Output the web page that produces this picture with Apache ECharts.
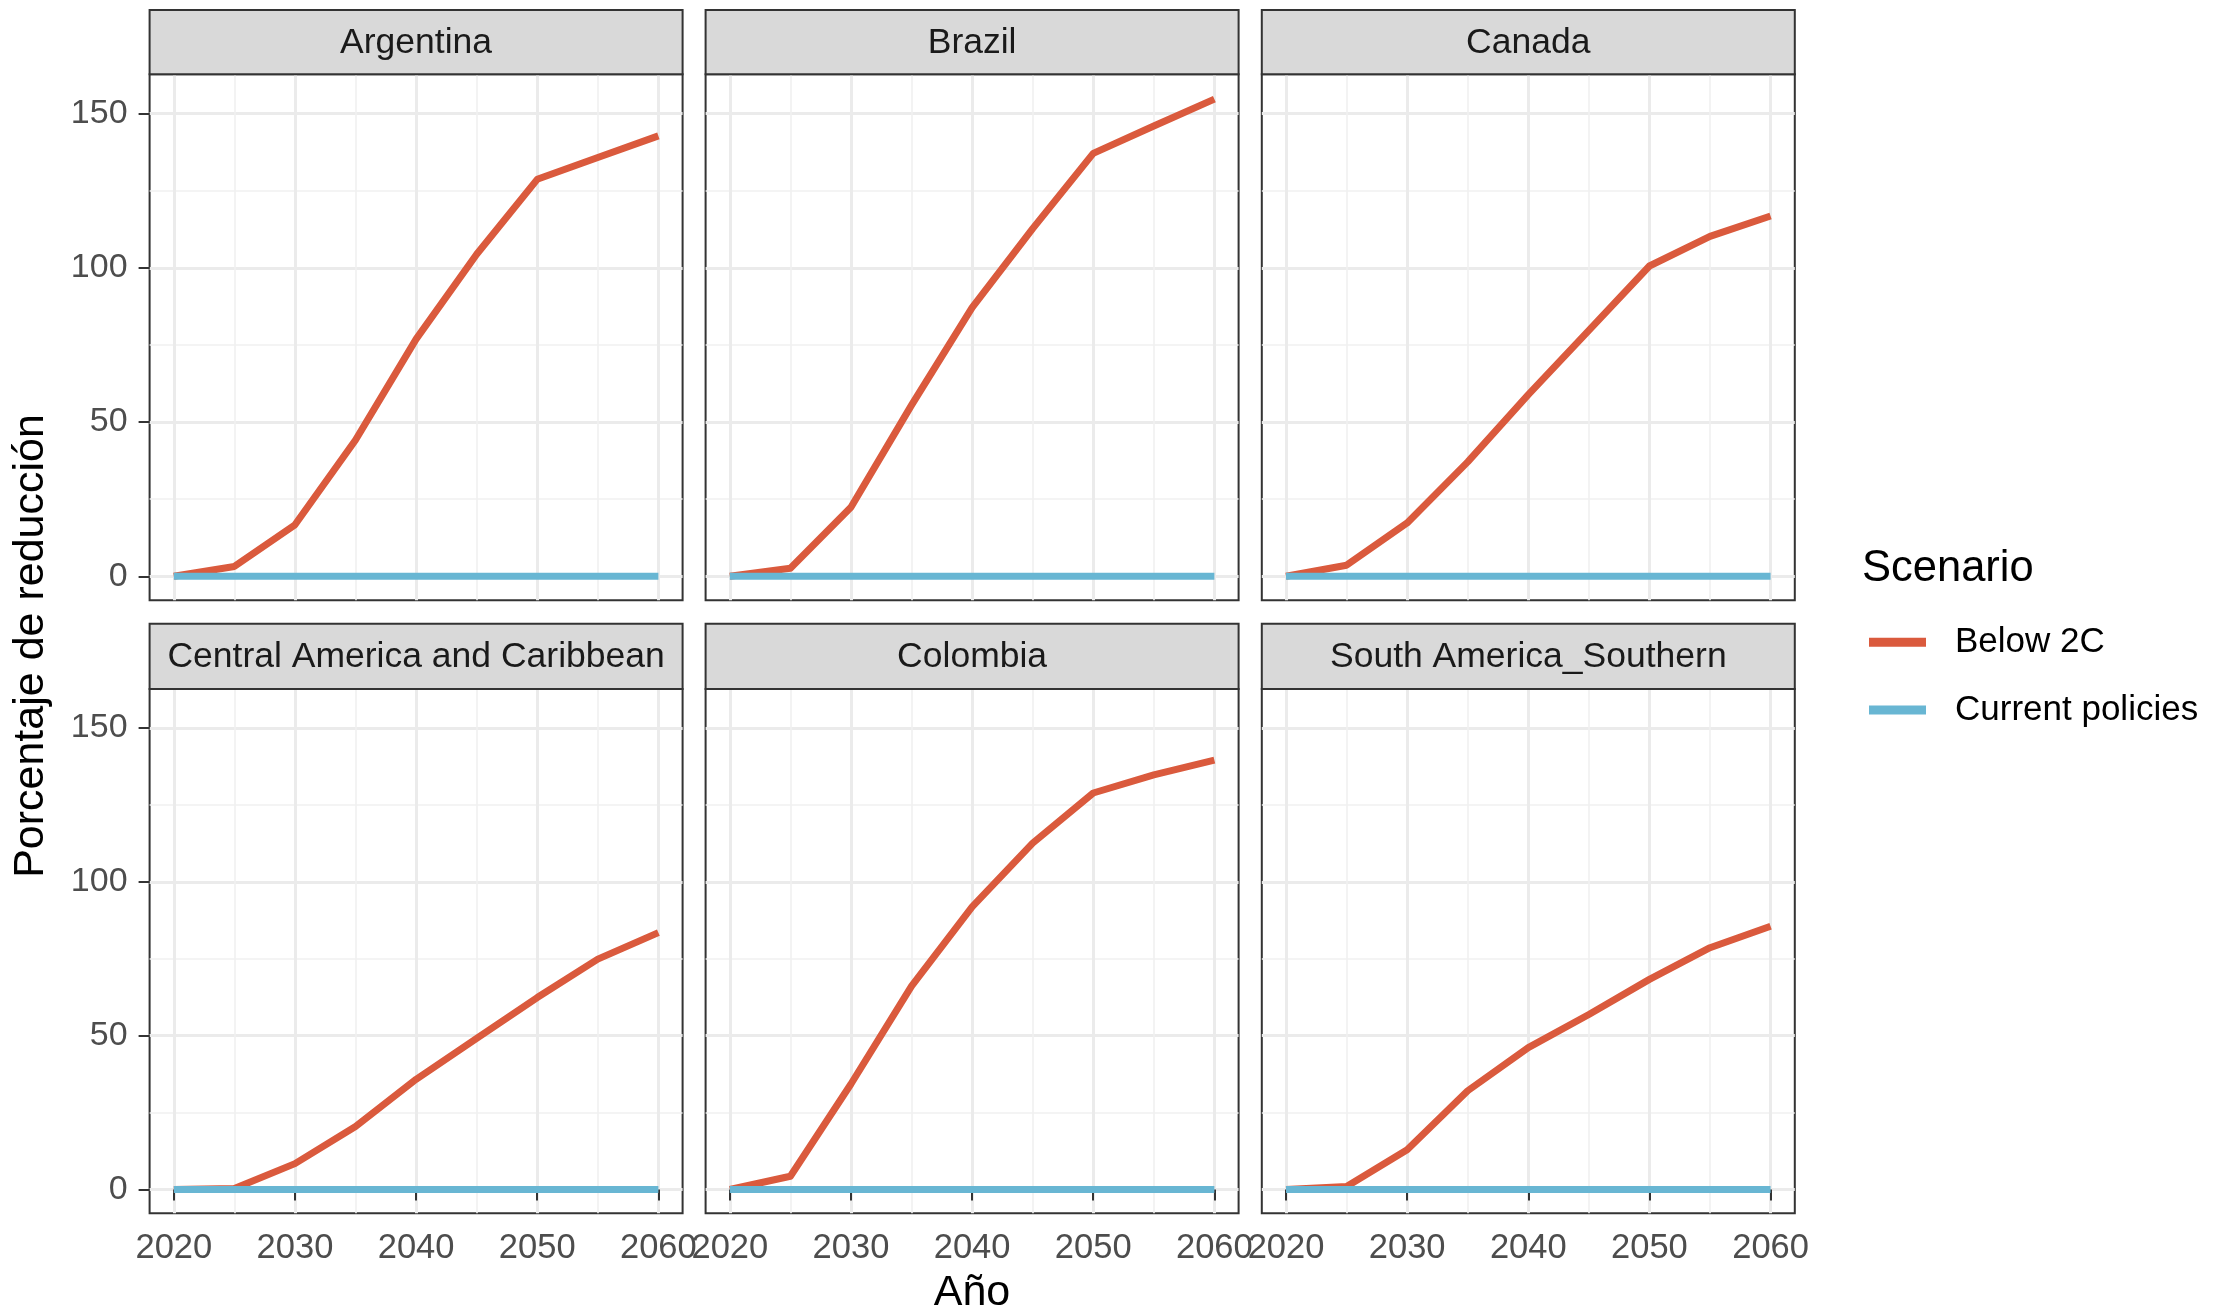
<!DOCTYPE html>
<html><head><meta charset="utf-8">
<script src="https://cdn.jsdelivr.net/npm/echarts@6/dist/echarts.min.js"></script>
<style>html,body{margin:0;padding:0;background:#fff}#c{width:2220px;height:1315px}</style>
</head><body><div id="c"></div>
<script>
// ---------- DATA ----------
const years = [2020, 2025, 2030, 2035, 2040, 2045, 2050, 2055, 2060];
const panelNames = ['Argentina', 'Brazil', 'Canada', 'Central America and Caribbean', 'Colombia', 'South America_Southern'];
const scenarioNames = ['Below 2C', 'Current policies'];

const argentinaBelow2C     = [0, 3.2, 16.7, 44.2, 76.9, 104.4, 128.7, 135.8, 142.8];
const brazilBelow2C        = [0, 2.6, 22.4, 55.5, 87.1, 112.7, 137.1, 146.0, 154.7];
const canadaBelow2C        = [0, 3.6, 17.3, 37.1, 58.9, 79.7, 100.6, 110.2, 116.8];
const centralAmericaBelow2C= [0, 0.3, 8.4, 20.5, 35.8, 49.1, 62.4, 74.9, 83.5];
const colombiaBelow2C      = [0, 4.3, 34.3, 66.1, 91.9, 112.6, 128.9, 134.8, 139.6];
const southAmericaBelow2C  = [0, 1.0, 12.9, 32.1, 46.1, 56.9, 68.3, 78.6, 85.6];

const argentinaCurrent      = [0, 0, 0, 0, 0, 0, 0, 0, 0];
const brazilCurrent         = [0, 0, 0, 0, 0, 0, 0, 0, 0];
const canadaCurrent         = [0, 0, 0, 0, 0, 0, 0, 0, 0];
const centralAmericaCurrent = [0, 0, 0, 0, 0, 0, 0, 0, 0];
const colombiaCurrent       = [0, 0, 0, 0, 0, 0, 0, 0, 0];
const southAmericaCurrent   = [0, 0, 0, 0, 0, 0, 0, 0, 0];

const xMajorTicks = [2020, 2030, 2040, 2050, 2060];
const xMinorTicks = [2025, 2035, 2045, 2055];
const yMajorTicks = [0, 50, 100, 150];
const yMinorTicks = [25, 75, 125];
const xRange = [2018, 2062];
const yRange = [-7.75, 162.75];

const below2CByPanel = [argentinaBelow2C, brazilBelow2C, canadaBelow2C, centralAmericaBelow2C, colombiaBelow2C, southAmericaBelow2C];
const currentByPanel = [argentinaCurrent, brazilCurrent, canadaCurrent, centralAmericaCurrent, colombiaCurrent, southAmericaCurrent];

// ---------- STYLE / LAYOUT ----------
const FONT = '"Liberation Sans", Arial, Helvetica, sans-serif';
const RED = '#DA5A3D';
const BLUE = '#68B6D3';
const L = {
  colLeft: [149.6, 705.6, 1261.8], colWidth: 533,
  stripTop: [9.9, 623.7], plotTop: [74.3, 688.9], plotBottom: [600.2, 1213.3]
};

const grids = [], xAxes = [], yAxes = [], series = [], graphics = [];
const toPairs = arr => years.map((y, k) => [y, arr[k]]);
const plain = v => String(v);

for (let i = 0; i < 6; i++) {
  const r = Math.floor(i / 3), c = i % 3;
  grids.push({
    left: L.colLeft[c], top: L.plotTop[r], width: L.colWidth,
    height: L.plotBottom[r] - L.plotTop[r],
    show: true, borderColor: '#333333', borderWidth: 2, backgroundColor: '#ffffff'
  });
}
// major axes (indices 0..5)
for (let i = 0; i < 6; i++) {
  const r = Math.floor(i / 3), c = i % 3;
  xAxes.push({
    type: 'value', gridIndex: i, min: xRange[0], max: xRange[1], position: 'bottom',
    axisLine: { show: false },
    axisTick: { show: r === 1, customValues: xMajorTicks, length: 11, lineStyle: { color: '#333333', width: 2 } },
    axisLabel: { show: r === 1, customValues: xMajorTicks, formatter: plain, fontSize: 34.5, color: '#4D4D4D', margin: 18, fontFamily: FONT },
    splitLine: { show: true, lineStyle: { color: '#EBEBEB', width: 3 } }
  });
  yAxes.push({
    type: 'value', gridIndex: i, min: yRange[0], max: yRange[1], position: 'left',
    axisLine: { show: false },
    axisTick: { show: c === 0, customValues: yMajorTicks, length: 11, lineStyle: { color: '#333333', width: 2 } },
    axisLabel: { show: c === 0, customValues: yMajorTicks, formatter: plain, fontSize: 34, color: '#4D4D4D', margin: 22, fontFamily: FONT },
    splitLine: { show: true, lineStyle: { color: '#EBEBEB', width: 3 } }
  });
}
// minor grid axes (indices 6..11)
for (let i = 0; i < 6; i++) {
  xAxes.push({
    type: 'value', gridIndex: i, min: xRange[0], max: xRange[1], position: 'top',
    axisLine: { show: false },
    axisTick: { show: false, customValues: xMinorTicks },
    axisLabel: { show: false, customValues: xMinorTicks },
    splitLine: { show: true, lineStyle: { color: '#F0F0F0', width: 1.6 } }
  });
  yAxes.push({
    type: 'value', gridIndex: i, min: yRange[0], max: yRange[1], position: 'right',
    axisLine: { show: false },
    axisTick: { show: false, customValues: yMinorTicks },
    axisLabel: { show: false, customValues: yMinorTicks },
    splitLine: { show: true, lineStyle: { color: '#F0F0F0', width: 1.6 } }
  });
}
for (let i = 0; i < 6; i++) {
  series.push({
    type: 'line', name: scenarioNames[0], xAxisIndex: i, yAxisIndex: i,
    data: toPairs(below2CByPanel[i]), symbol: 'none', showSymbol: false, z: 3,
    lineStyle: { color: RED, width: 7, cap: 'butt', join: 'round' }, itemStyle: { color: RED }
  });
  series.push({
    type: 'line', name: scenarioNames[1], xAxisIndex: i, yAxisIndex: i,
    data: toPairs(currentByPanel[i]), symbol: 'none', showSymbol: false, z: 4,
    lineStyle: { color: BLUE, width: 7, cap: 'butt', join: 'round' }, itemStyle: { color: BLUE }
  });
}
// strips
for (let i = 0; i < 6; i++) {
  const r = Math.floor(i / 3), c = i % 3;
  const h = L.plotTop[r] - L.stripTop[r];
  graphics.push({
    type: 'rect', z: 10,
    shape: { x: L.colLeft[c], y: L.stripTop[r], width: L.colWidth, height: h },
    style: { fill: '#D9D9D9', stroke: '#333333', lineWidth: 2 }
  });
  graphics.push({
    type: 'text', z: 11, x: L.colLeft[c] + L.colWidth / 2, y: L.stripTop[r] + h / 2 + 1,
    style: { text: panelNames[i], fontSize: 35.5, fontFamily: FONT, fill: '#1A1A1A', align: 'center', verticalAlign: 'middle' }
  });
}
graphics.push({
  type: 'text', x: 31, y: 646, rotation: Math.PI / 2,
  style: { text: 'Porcentaje de reducción', fontSize: 43, fontFamily: FONT, fill: '#000', align: 'center', verticalAlign: 'middle' }
});
graphics.push({
  type: 'text', x: 972, y: 1293,
  style: { text: 'Año', fontSize: 43, fontFamily: FONT, fill: '#000', align: 'center', verticalAlign: 'middle' }
});
graphics.push({
  type: 'text', x: 1862, y: 569,
  style: { text: 'Scenario', fontSize: 43.5, fontFamily: FONT, fill: '#000', align: 'left', verticalAlign: 'middle' }
});

const chart = echarts.init(document.getElementById('c'), null, { renderer: 'canvas' });
chart.setOption({
  animation: false,
  backgroundColor: '#ffffff',
  grid: grids, xAxis: xAxes, yAxis: yAxes, series: series,
  legend: {
    data: scenarioNames, orient: 'vertical', left: 1869, top: 622.3, padding: 0,
    itemWidth: 57, itemHeight: 9, itemGap: 27.7, icon: 'rect', selectedMode: false,
    textStyle: { fontSize: 35, color: '#000', fontFamily: FONT, lineHeight: 40, padding: [0, 0, 0, 24] }
  },
  graphic: graphics
});
</script></body></html>
